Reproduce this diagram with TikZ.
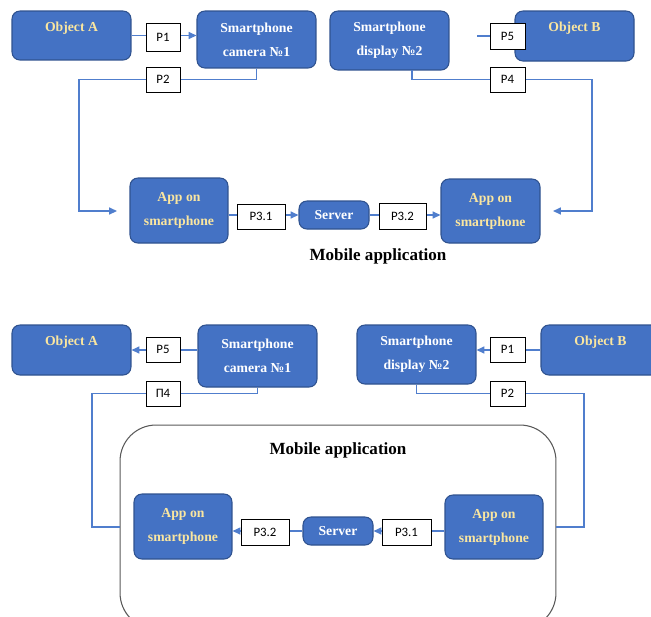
\documentclass[tikz,border=0pt]{standalone}
\usepackage{fontspec}
\setmainfont{Liberation Serif}
\newfontfamily\lblfont{Carlito}
\usetikzlibrary{arrows.meta}
\definecolor{boxfill}{RGB}{68,114,196}
\definecolor{boxedge}{RGB}{47,82,143}
\definecolor{linkblue}{RGB}{80,126,205}
\definecolor{pale}{RGB}{250,230,160}
\begin{document}
\begin{tikzpicture}[x=0.02cm,y=-0.02cm,
	unit/.style={draw=boxedge,fill=boxfill,line width=0.6pt,rounded corners=4.5pt,align=center,inner sep=0pt,font=\bfseries\fontsize{7.8}{13.6}\selectfont},
	obj/.style={unit,text=pale},
	dev/.style={unit,text=white},
	tag/.style={draw=black,fill=white,line width=0.5pt,inner sep=0pt,font=\lblfont\fontsize{7.3}{9}\selectfont},
	wire/.style={draw=linkblue,line width=0.8pt},
	flow/.style={wire,-{Triangle[length=4.5pt,width=4pt]}},
	title/.style={font=\bfseries\fontsize{9.7}{11}\selectfont}]
	\clip (0,0) rectangle (651,616);
	\node[draw=black!65,line width=0.6pt,rounded corners=0.72cm,minimum width=8.72cm,minimum height=4.08cm] (box2) at (338,527) {};
	\node[obj,minimum width=2.38cm,minimum height=0.98cm] (objA1) at (71.5,35.5) {Object A\\[-3.5pt]~};
	\node[dev,minimum width=2.38cm,minimum height=1.14cm] (cam1) at (256.5,39.5) {Smartphone\\camera №1};
	\node[dev,minimum width=2.38cm,minimum height=1.18cm] (disp1) at (389.5,40.5) {Smartphone\\display №2};
	\node[obj,minimum width=2.38cm,minimum height=1.0cm] (objB1) at (574.5,36) {Object B\\[-3.5pt]~};
	\node[tag,minimum width=0.7cm,minimum height=0.52cm] (p5a) at (507.5,36) {P5};
	\node[obj,minimum width=1.96cm,minimum height=1.3cm] (appL1) at (179,210.5) {App on\\smartphone};
	\node[dev,minimum width=1.4cm,minimum height=0.56cm] (srv1) at (334,215) {Server};
	\node[obj,minimum width=1.98cm,minimum height=1.28cm] (appR1) at (490.5,211) {App on\\smartphone};
	\node[title] (title1) at (378,256) {Mobile application};
	\coordinate (bendL1) at (79,79.5);
	\coordinate (inL1) at (117,211);
	\coordinate (stubB) at (477,36);
	\coordinate (outD1) at (412,70);
	\coordinate (bendR1) at (592,79.5);
	\coordinate (inR1) at (553,211);
	\draw[flow] (objA1.east) -- (objA1.east -| cam1.west);
	\draw[flow] (cam1.south) |- (bendL1) |- (inL1);
	\draw[wire] (stubB) -- (p5a.west);
	\draw[flow] (outD1) |- (bendR1) |- (inR1);
	\draw[flow] (appL1.east |- srv1) -- (srv1.west);
	\draw[flow] (srv1.east) -- (srv1 -| appR1.west);
	\node[tag,minimum width=0.68cm,minimum height=0.56cm] (p1a) at (163,37) {P1};
	\node[tag,minimum width=0.68cm,minimum height=0.5cm] (p2a) at (163,79.5) {P2};
	\node[tag,minimum width=0.7cm,minimum height=0.5cm] (p4a) at (507.5,79.5) {P4};
	\node[tag,minimum width=0.96cm,minimum height=0.5cm] (p31a) at (261,216.5) {P3.1};
	\node[tag,minimum width=0.94cm,minimum height=0.52cm] (p32a) at (402.5,216) {P3.2};
	\node[obj,minimum width=2.38cm,minimum height=1.0cm] (objA2) at (71.5,350) {Object A\\[-3.5pt]~};
	\node[dev,minimum width=2.38cm,minimum height=1.24cm] (cam2) at (257.5,356) {Smartphone\\camera №1};
	\node[dev,minimum width=2.38cm,minimum height=1.18cm] (disp2) at (416.5,354.5) {Smartphone\\display №2};
	\node[obj,minimum width=2.38cm,minimum height=1.0cm] (objB2) at (600.5,350) {Object B\\[-3.5pt]~};
	\node[title] (title2) at (338,450) {Mobile application};
	\node[obj,minimum width=1.96cm,minimum height=1.3cm] (appL2) at (183,526.5) {App on\\smartphone};
	\node[dev,minimum width=1.4cm,minimum height=0.56cm] (srv2) at (338,531) {Server};
	\node[obj,minimum width=1.96cm,minimum height=1.28cm] (appR2) at (494,527) {App on\\smartphone};
	\coordinate (bendL2) at (92,393.5);
	\coordinate (bendR2) at (584,393.5);
	\draw[flow] (cam2.west |- objA2) -- (objA2.east);
	\draw[wire] (cam2.south) |- (bendL2) |- (box2.west);
	\draw[flow] (objB2.west) -- (objB2.west -| disp2.east);
	\draw[wire] (disp2.south) |- (bendR2) |- (box2.east);
	\draw[flow] (srv2.west) -- (srv2 -| appL2.east);
	\draw[flow] (appR2.west |- srv2) -- (srv2.east);
	\node[tag,minimum width=0.68cm,minimum height=0.5cm] (p5b) at (163,349.5) {P5};
	\node[tag,minimum width=0.68cm,minimum height=0.5cm] (p4b) at (163,393.5) {П4};
	\node[tag,minimum width=0.7cm,minimum height=0.5cm] (p1b) at (507.5,349.5) {P1};
	\node[tag,minimum width=0.7cm,minimum height=0.5cm] (p2b) at (507.5,393.5) {P2};
	\node[tag,minimum width=0.96cm,minimum height=0.52cm] (p32b) at (265,532) {P3.2};
	\node[tag,minimum width=0.98cm,minimum height=0.52cm] (p31b) at (406.5,532) {P3.1};
\end{tikzpicture}
\end{document}
